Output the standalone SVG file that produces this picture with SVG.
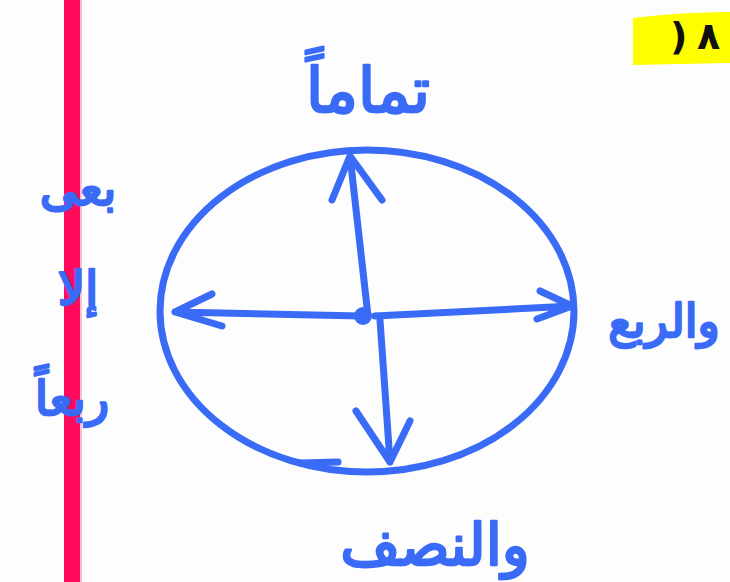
<svg xmlns="http://www.w3.org/2000/svg" width="730" height="582" viewBox="0 0 730 582">
<style>
.ink{fill:none;stroke:#3a6bf7;stroke-width:7;stroke-linecap:round;stroke-linejoin:round}
.lbl{font-family:"DejaVu Sans",sans-serif;fill:#3a6bf7;stroke:#3a6bf7;stroke-width:2.5;stroke-linejoin:round}
.bdg{font-family:"DejaVu Sans",sans-serif;font-size:38px;font-weight:bold;fill:#111}
</style>
<rect width="730" height="582" fill="#fdfdfe"/>
<rect x="64" y="0" width="16" height="582" fill="#ff0a5c"/>
<rect x="80" y="0" width="2" height="582" fill="#ffc0d0"/>
<g id="badge">
<path d="M633 18 Q680 12 730 12 L730 63 Q680 64 633 65 Z" fill="#ffff00"/>
<text class="bdg" x="670" y="49">)</text>
<text class="bdg" x="697" y="49">٨</text>
</g>
<g id="clock">
<ellipse class="ink" cx="367" cy="311" rx="207" ry="161"/>
<path class="ink" d="M300 463 L338 462"/>
<circle cx="363" cy="316" r="9" fill="#3a6bf7"/>
</g>
<g id="connectors">
<path class="ink" d="M368 316 L350 156 M332 200 L350 156 L382 200"/>
<path class="ink" d="M362 316 L175 312 M212 294 L175 312 L222 326"/>
<path class="ink" d="M375 316 L572 306 M540 291 L572 306 L537 319"/>
<path class="ink" d="M380 320 L390 462 M356 411 L390 462 L410 421"/>
</g>
<g id="top-label"><text class="lbl" x="368" y="112" font-size="62" text-anchor="middle" direction="rtl">تماماً</text></g>
<g id="right-label"><text class="lbl" x="664" y="337" font-size="46" text-anchor="middle" direction="rtl">والربع</text></g>
<g id="bottom-label"><text class="lbl" x="435" y="565" font-size="58" text-anchor="middle" direction="rtl">والنصف</text></g>
<g id="left-label">
<text class="lbl" x="78" y="205" font-size="48" text-anchor="middle" direction="rtl">بعى</text>
<text class="lbl" x="78" y="305" font-size="48" text-anchor="middle" direction="rtl">إلا</text>
<text class="lbl" x="72" y="415" font-size="48" text-anchor="middle" direction="rtl">ربعاً</text>
</g>
</svg>
